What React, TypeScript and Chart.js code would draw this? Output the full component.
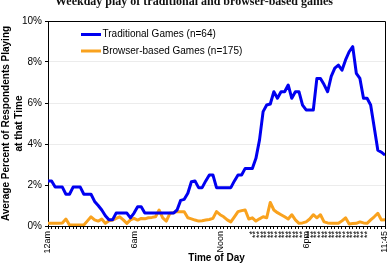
import React, { useEffect, useRef } from 'react';
import { Chart, registerables } from 'chart.js';

Chart.register(...registerables);

const TITLE = 'Weekday play of traditional and browser-based games';
const SERIES_NAMES = ['Traditional Games (n=64)', 'Browser-based Games (n=175)'];
const SERIES_COLORS = ['#0000F0', '#F9A21E'];
const X_TITLE = 'Time of Day';
const Y_TITLE = ['Average Percent of Respondents Playing', 'at that Time'];

// 96 quarter-hour slots, 12am .. 11:45pm ("*" marks significance)
const TIME_LABELS = [
  '12am', '', '', '', '', '', '', '', '', '', '', '', '', '', '', '', '', '', '', '', '', '', '', '',
  '6am', '', '', '', '', '', '', '', '', '', '', '', '', '', '', '', '', '', '', '', '', '', '', '',
  'Noon', '', '', '', '', '', '', '', '', '*', '**', '**', '**', '**', '**', '**', '**', '**', '**', '**', '**', '**', '**', '**',
  '6pm', '**', '**', '**', '**', '**', '**', '**', '**', '**', '**', '**', '**', '**', '**', '**', '**', '**', '', '', '', '', '11:45',
];

const TRADITIONAL = [
  2.2, 2.2, 1.9, 1.9, 1.9, 1.55, 1.55, 1.9, 1.9, 1.9, 1.55, 1.55, 1.55, 1.2, 1.0, 0.78,
  0.5, 0.3, 0.3, 0.63, 0.63, 0.63, 0.63, 0.4, 0.63, 0.94, 0.94, 0.63, 0.63, 0.63, 0.63, 0.63,
  0.63, 0.63, 0.63, 0.63, 0.78, 1.25, 1.3, 1.6, 2.16, 2.2, 1.87, 1.87, 2.2, 2.49, 2.49, 1.87,
  1.87, 1.87, 1.87, 1.87, 2.2, 2.49, 2.49, 2.81, 2.81, 2.81, 3.3, 4.2, 5.58, 5.9, 5.95, 6.55,
  6.23, 6.55, 6.55, 6.88, 6.23, 6.55, 6.55, 5.9, 5.66, 5.66, 5.66, 7.2, 7.2, 6.9, 6.55, 7.3,
  7.7, 7.85, 7.6, 8.1, 8.5, 8.75, 7.45, 7.2, 6.23, 6.23, 5.9, 4.8, 3.7, 3.6, 3.46, 3.46,
];

const BROWSER = [
  0.13, 0.13, 0.13, 0.13, 0.15, 0.34, 0.05, 0.05, 0.05, 0.05, 0.05, 0.25, 0.45, 0.3, 0.24, 0.34,
  0.13, 0.25, 0.29, 0.37, 0.45, 0.3, 0.13, 0.3, 0.37, 0.29, 0.37, 0.35, 0.4, 0.42, 0.45, 0.78,
  0.4, 0.24, 0.62, 0.65, 0.7, 0.7, 0.7, 0.4, 0.35, 0.29, 0.24, 0.26, 0.29, 0.32, 0.37, 0.7,
  0.55, 0.45, 0.3, 0.2, 0.45, 0.7, 0.75, 0.78, 0.34, 0.4, 0.24, 0.35, 0.45, 0.4, 1.15, 0.78,
  0.65, 0.55, 0.45, 0.34, 0.55, 0.3, 0.13, 0.15, 0.2, 0.34, 0.55, 0.4, 0.55, 0.2, 0.15, 0.13,
  0.13, 0.13, 0.25, 0.4, 0.1, 0.12, 0.13, 0.2, 0.15, 0.13, 0.3, 0.45, 0.62, 0.29, 0.3, 0.37,
];

const Y_MIN = 0;
const Y_MAX = 10;
const Y_STEP = 2;

const SANS = '"Liberation Sans", Arial, sans-serif';

const framePlugin = {
  id: 'frameAndLegend',
  afterDraw(chart: any) {
    const { ctx, chartArea } = chart;
    const { left, top, right, bottom } = chartArea;
    ctx.save();
    // plot frame
    ctx.strokeStyle = '#000';
    ctx.lineWidth = 1;
    ctx.beginPath();
    ctx.moveTo(left, top + 0.5);
    ctx.lineTo(right + 0.5, top + 0.5);
    ctx.lineTo(right + 0.5, bottom);
    ctx.stroke();
    // legend
    ctx.font = `10px ${SANS}`;
    ctx.textBaseline = 'middle';
    ctx.textAlign = 'left';
    const rows = [top + 13.5, top + 30];
    SERIES_NAMES.forEach((name, i) => {
      ctx.strokeStyle = SERIES_COLORS[i];
      ctx.lineWidth = 3;
      ctx.beginPath();
      ctx.moveTo(left + 33, rows[i]);
      ctx.lineTo(left + 53, rows[i]);
      ctx.stroke();
      ctx.fillStyle = '#000';
      ctx.fillText(name, left + 54.5, rows[i]);
    });
    // clipped title at the very top
    ctx.font = `bold 12px "Liberation Serif", "Times New Roman", serif`;
    ctx.textAlign = 'center';
    ctx.textBaseline = 'alphabetic';
    ctx.fillStyle = '#111';
    ctx.fillText(TITLE, 194, 5);
    ctx.restore();
  },
};

export default function App() {
  const ref = useRef<HTMLCanvasElement | null>(null);
  useEffect(() => {
    if (!ref.current) return;
    const chart = new Chart(ref.current, {
      type: 'line',
      data: {
        labels: TIME_LABELS,
        datasets: [
          {
            label: SERIES_NAMES[0],
            data: TRADITIONAL,
            borderColor: SERIES_COLORS[0],
            backgroundColor: SERIES_COLORS[0],
            borderWidth: 3,
            pointRadius: 0,
            tension: 0,
            borderJoinStyle: 'round',
          },
          {
            label: SERIES_NAMES[1],
            data: BROWSER,
            borderColor: SERIES_COLORS[1],
            backgroundColor: SERIES_COLORS[1],
            borderWidth: 3,
            pointRadius: 0,
            tension: 0,
            borderJoinStyle: 'round',
          },
        ],
      },
      options: {
        responsive: false,
        animation: false,
        layout: { padding: { top: 21, right: 4, left: 0, bottom: 0 } },
        plugins: {
          legend: { display: false },
          tooltip: { enabled: false },
          title: { display: false },
        },
        scales: {
          x: {
            type: 'category',
            offset: false,
            afterFit: (s: any) => { s.height = 38; s.paddingLeft = 0; s.paddingRight = 0; },
            grid: { drawOnChartArea: false, drawTicks: true, tickLength: 3, tickColor: '#000' },
            border: { color: '#000', width: 1 },
            ticks: {
              autoSkip: false,
              minRotation: 90,
              maxRotation: 90,
              padding: 2,
              color: '#000',
              font: { family: SANS, size: 9 },
            },
            title: {
              display: true,
              text: X_TITLE,
              color: '#000',
              font: { family: SANS, size: 10, weight: 'bold' },
              padding: { top: 0, bottom: 0 },
            },
          },
          y: {
            min: Y_MIN,
            max: Y_MAX,
            afterFit: (s: any) => { s.width = 48; s.paddingTop = 0; s.paddingBottom = 0; },
            grid: { color: '#ececec', tickColor: '#000', tickLength: 3, drawTicks: true },
            border: { color: '#000', width: 1 },
            ticks: {
              stepSize: Y_STEP,
              padding: 3,
              color: '#000',
              font: { family: SANS, size: 10 },
              callback: (v: any) => `${v}%`,
            },
            title: {
              display: true,
              text: Y_TITLE,
              color: '#000',
              font: { family: SANS, size: 10, weight: 'bold', lineHeight: 1.25 },
              padding: { top: 0, bottom: 0 },
            },
          },
        },
      },
      plugins: [framePlugin],
    });
    return () => chart.destroy();
  }, []);
  return (
    <div style={{ position: 'absolute', left: 0, top: 0, width: 389, height: 264, background: '#fff' }}>
      <canvas ref={ref} width={389} height={264} style={{ display: 'block' }} />
    </div>
  );
}
